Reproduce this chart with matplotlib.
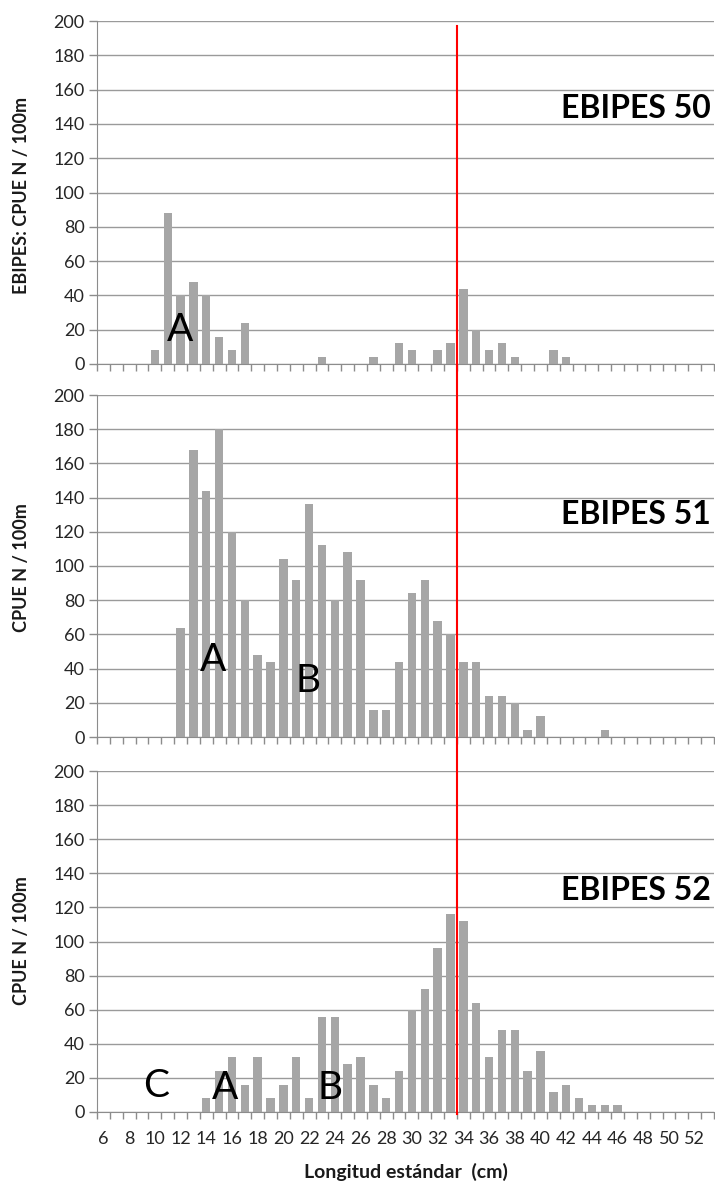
import matplotlib
matplotlib.use("Agg")
import matplotlib.pyplot as plt
import matplotlib.transforms as mtransforms
from matplotlib.lines import Line2D
import numpy as np

plt.rcParams['font.family'] = ['Lato', 'DejaVu Sans']

# categories: standard length (cm)
lengths = list(range(6, 54))
tick_labels = [str(v) if v % 2 == 0 else "" for v in lengths]

# EBIPES 50
e50 = {10: 8, 11: 88, 12: 40, 13: 48, 14: 40, 15: 16, 16: 8, 17: 24, 23: 4, 27: 4,
       29: 12, 30: 8, 32: 8, 33: 12, 34: 44, 35: 20, 36: 8, 37: 12, 38: 4, 41: 8, 42: 4}
# EBIPES 51
e51 = {12: 64, 13: 168, 14: 144, 15: 180, 16: 120, 17: 80, 18: 48, 19: 44, 20: 104,
       21: 92, 22: 136, 23: 112, 24: 80, 25: 108, 26: 92, 27: 16, 28: 16, 29: 44,
       30: 84, 31: 92, 32: 68, 33: 60, 34: 44, 35: 44, 36: 24, 37: 24, 38: 20,
       39: 4, 40: 12, 45: 4}
# EBIPES 52
e52 = {14: 8, 15: 24, 16: 32, 17: 16, 18: 32, 19: 8, 20: 16, 21: 32, 22: 8, 23: 56,
       24: 56, 25: 28, 26: 32, 27: 16, 28: 8, 29: 24, 30: 60, 31: 72, 32: 96, 33: 116,
       34: 112, 35: 64, 36: 32, 37: 48, 38: 48, 39: 24, 40: 36, 41: 12, 42: 16, 43: 8,
       44: 4, 45: 4, 46: 4}

series = [e50, e51, e52]
titles = ["EBIPES 50", "EBIPES 51", "EBIPES 52"]
ylabels = ["EBIPES: CPUE N / 100m", "CPUE N / 100m", "CPUE N / 100m"]
red_line_after = 33  # line drawn between 33 and 34 cm
# annotation letters: (letter, length position, y value)
letters = [
    [("A", 12.0, 20)],
    [("A", 14.5, 45), ("B", 21.9, 33)],
    [("C", 10.1, 15), ("A", 15.5, 14), ("B", 23.6, 14)],
]

W, H = 715, 1187
fig = plt.figure(figsize=(W / 100, H / 100), dpi=100)

boxes = [(21, 364), (395, 737), (771, 1112)]
title_y = [109, 514, 891]
ylabel_y = [195, 568, 941]
left, right = 97, 714
axes = []
x = np.arange(len(lengths))
for i, (top, bot) in enumerate(boxes):
    ax = fig.add_axes([left / W, 1 - bot / H, (right - left) / W, (bot - top) / H])
    vals = [series[i].get(v, 0) for v in lengths]
    ax.set_axisbelow(True)
    ax.yaxis.grid(True, color='#9a9a9a', lw=1.0)
    ax.bar(x, vals, width=0.65, color='#a6a6a6', zorder=2)
    ax.set_xlim(-0.5, len(lengths) - 0.5)
    ax.set_ylim(0, 200)
    ax.set_yticks(range(0, 201, 20))
    ax.set_xticks(np.arange(len(lengths) + 1) - 0.5, minor=False)
    ax.set_xticklabels([])
    ax.tick_params(axis='x', length=5, color='#8c8c8c', width=1, direction='out')
    ax.tick_params(axis='y', length=6, color='#8c8c8c', width=1, labelsize=13,
                   labelcolor='#262626', pad=3)
    for s in ['top', 'right']:
        ax.spines[s].set_visible(False)
    ax.spines['left'].set_color('#8c8c8c')
    ax.spines['bottom'].set_color('#8c8c8c')
    ax.text(0.995, (bot - title_y[i]) / (bot - top), titles[i],
            transform=ax.transAxes, ha='right', va='center', fontsize=23,
            fontweight='bold', color='black')
    for (ch, pos, yv) in letters[i]:
        ax.text(lengths.index(int(pos)) + (pos - int(pos)), yv, ch, ha='center',
                va='center', fontsize=28, color='black', zorder=5)
    fig.text(22 / W, 1 - ylabel_y[i] / H, ylabels[i], rotation=90, ha='center',
             va='center', fontsize=13, fontweight='bold', color='#1a1a1a')
    axes.append(ax)

axb = axes[-1]
axb.set_xticks(x, labels=tick_labels, minor=True)
axb.tick_params(axis='x', which='minor', length=0, labelsize=13, pad=14,
                labelcolor='#262626')
axb.set_xlabel("Longitud estándar  (cm)", fontsize=14, fontweight='bold',
               color='#1a1a1a', labelpad=11)

# red reference line spanning all panels
trans = mtransforms.blended_transform_factory(axes[0].transData, fig.transFigure)
xr = lengths.index(red_line_after) + 0.5
fig.add_artist(Line2D([xr, xr], [1 - 26 / H, 1 - 1114 / H], transform=trans,
                      color='red', lw=1.5, zorder=10))

fig.savefig("out.png", dpi=100)
